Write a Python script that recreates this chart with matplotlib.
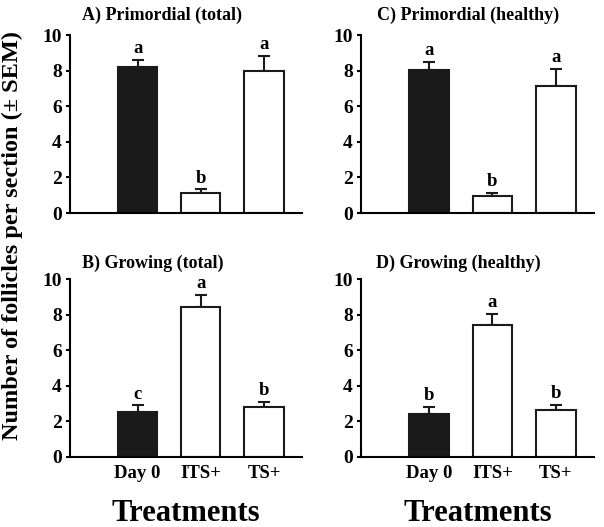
import numpy as np
import matplotlib
matplotlib.use('Agg')
import matplotlib.pyplot as plt

plt.rcParams.update({'font.family': 'serif', 'font.serif': ['Liberation Serif', 'DejaVu Serif'],
                     'font.weight': 'bold'})

treatments = ['Day 0', 'ITS+', 'TS+']

# mean and SEM
prim_total = [8.2, 1.1, 7.95]
prim_total_sem = [0.4, 0.23, 0.88]
prim_total_letters = ['a', 'b', 'a']

grow_total = [2.5, 8.41, 2.81]
grow_total_sem = [0.39, 0.71, 0.27]
grow_total_letters = ['c', 'a', 'b']

prim_healthy = [8.03, 0.96, 7.15]
prim_healthy_sem = [0.44, 0.16, 0.94]
prim_healthy_letters = ['a', 'b', 'a']

grow_healthy = [2.4, 7.41, 2.63]
grow_healthy_sem = [0.41, 0.62, 0.28]
grow_healthy_letters = ['b', 'a', 'b']

bar_colors = ['#1a1a1a', 'white', 'white']
edge = '#1a1a1a'
lw = 1.5

fig = plt.figure(figsize=(6.04, 5.27), dpi=100)
W, H = 604.0, 527.0

def make_axes(left, right, top, bottom):
    return fig.add_axes([left / W, 1 - bottom / H, (right - left) / W, (bottom - top) / H])

panels = [
    (make_axes(70, 302, 35, 213), prim_total, prim_total_sem, prim_total_letters, 'A) Primordial (total)', 82, 15, False),
    (make_axes(70, 302, 279, 456.7), grow_total, grow_total_sem, grow_total_letters, 'B) Growing (total)', 82, 263, True),
    (make_axes(361, 594, 35, 213), prim_healthy, prim_healthy_sem, prim_healthy_letters, 'C) Primordial (healthy)', 377, 15, False),
    (make_axes(361, 594, 279, 456.7), grow_healthy, grow_healthy_sem, grow_healthy_letters, 'D) Growing (healthy)', 376, 263, True),
]

x = np.arange(1, 4)
for ax, vals, sem, letters, title, tx, ty, show_x in panels:
    ax.bar(x, vals, width=0.62, color=bar_colors, edgecolor=edge, linewidth=lw, zorder=2)
    ax.errorbar(x, vals, yerr=[np.zeros(3), sem], fmt='none', ecolor=edge, elinewidth=lw,
                capsize=4.5, capthick=lw, zorder=1)
    for xi, v, s, lab in zip(x, vals, sem, letters):
        ax.annotate(lab, (xi, v + s), xytext=(0, 2), textcoords='offset points',
                    ha='center', va='bottom', fontsize=13.5, fontweight='bold', annotation_clip=False)
    ax.set_xlim(-0.07, 3.6)
    ax.set_ylim(0, 10)
    ax.set_yticks(range(0, 11, 2))
    ax.spines['top'].set_visible(False)
    ax.spines['right'].set_visible(False)
    ax.spines['left'].set_linewidth(lw)
    ax.spines['bottom'].set_linewidth(lw)
    ax.tick_params(axis='y', direction='out', length=3, width=lw, pad=3, labelsize=14)
    ax.tick_params(axis='x', length=0, pad=6, labelsize=13.5)
    ax.set_xticks(x)
    if show_x:
        ax.set_xticklabels(treatments)
        ax.set_xlabel('Treatments', fontsize=22, fontweight='bold', labelpad=12)
    else:
        ax.set_xticklabels([])
    for t in ax.get_yticklabels() + ax.get_xticklabels():
        t.set_fontweight('bold')
    fig.text(tx / W, 1 - ty / H, title, ha='left', va='center', fontsize=13, fontweight='bold')

fig.text(12 / W, 1 - 236 / H, 'Number of follicles per section (\u00b1 SEM)', rotation=90,
         ha='center', va='center', fontsize=17.5, fontweight='bold')

plt.savefig('out.png', dpi=100)
